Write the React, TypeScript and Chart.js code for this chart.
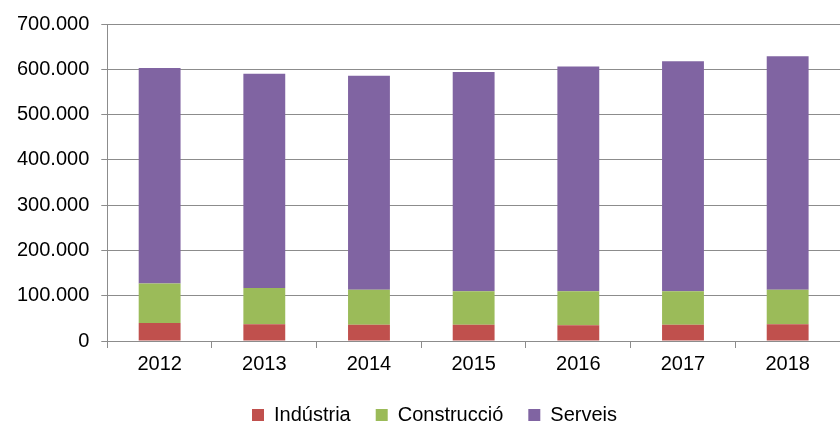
import React, { useEffect, useRef } from "react";
import { Chart, registerables } from "chart.js";

Chart.register(...registerables);

const categories = ["2012", "2013", "2014", "2015", "2016", "2017", "2018"];
const industria = [40000, 37000, 36000, 36000, 35000, 36000, 37000];
const construccio = [87000, 80000, 77000, 74000, 75000, 74000, 76000];
const serveis = [476000, 473000, 473000, 484000, 496000, 508000, 516000];
const seriesNames = ["Indústria", "Construcció", "Serveis"];

const fmt = (v: number) => {
  if (v === 0) return "0";
  return String(v).replace(/\B(?=(\d{3})+(?!\d))/g, ".");
};

const legendShift = {
  id: "legendShift",
  afterLayout(chart: any) {
    const lg = chart.legend;
    if (!lg) return;
    lg.left += 12;
    lg.right += 12;
  },
};

export default function App() {
  const ref = useRef<HTMLCanvasElement | null>(null);
  useEffect(() => {
    if (!ref.current) return;
    const font = { family: "'Liberation Sans', Arial, sans-serif", size: 20 };
    const chart = new Chart(ref.current, {
      type: "bar",
      data: {
        labels: categories,
        datasets: [
          { label: seriesNames[0], data: industria, backgroundColor: "#c0504d" },
          { label: seriesNames[1], data: construccio, backgroundColor: "#9bbb59" },
          { label: seriesNames[2], data: serveis, backgroundColor: "#8064a2" },
        ],
      },
      options: {
        animation: false,
        responsive: false,
        maintainAspectRatio: false,
        layout: { padding: { left: 5, right: 0, top: 10, bottom: -14 } },
        datasets: { bar: { barPercentage: 0.8, categoryPercentage: 0.5 } },
        plugins: {
          legend: {
            position: "bottom",
            labels: {
              font,
              color: "#000",
              boxWidth: 12,
              boxHeight: 12,
              padding: 25,
            },
          },
          tooltip: { enabled: false },
        },
        scales: {
          x: {
            stacked: true,
            offset: true,
            grid: {
              display: true,
              drawOnChartArea: false,
              drawTicks: true,
              tickLength: 7,
              offset: true,
              color: "#8c8c8c",
            },
            border: { display: true, color: "#8c8c8c", width: 1 },
            ticks: { font, color: "#000", padding: 4 },
          },
          y: {
            stacked: true,
            min: 0,
            max: 700000,
            grid: {
              color: "#8c8c8c",
              drawTicks: true,
              tickLength: 6,
            },
            border: { display: true, color: "#8c8c8c", width: 1 },
            ticks: {
              stepSize: 100000,
              font,
              color: "#000",
              padding: 12,
              callback: (v: any) => fmt(Number(v)),
            },
          },
        },
      },
      plugins: [legendShift],
    });
    return () => chart.destroy();
  }, []);
  return (
    <div style={{ position: "absolute", left: 0, top: 0, width: 840, height: 421 }}>
      <canvas ref={ref} width={840} height={421} style={{ width: 840, height: 421 }} />
    </div>
  );
}
